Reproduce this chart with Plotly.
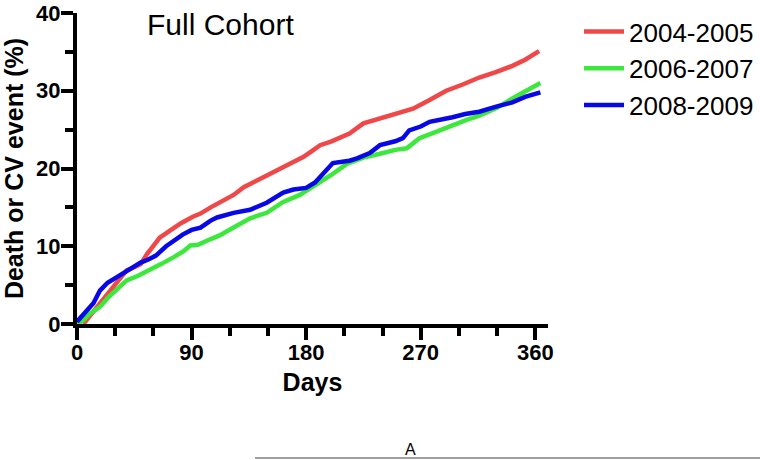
import plotly.graph_objects as go

# ---- data ----
series_names = ["2004-2005", "2006-2007", "2008-2009"]

days_0405 = [5, 8, 15, 20, 26, 33, 39, 45, 50, 55, 60, 65, 73, 82, 91, 97, 105, 114, 123, 131,
             141, 149, 158, 167, 178, 185, 191, 200, 214, 225, 240, 252, 264, 277, 290, 303,
             316, 329, 342, 352, 363]
pct_0405 = [0, 0.6, 2.2, 3.2, 4.3, 5.8, 6.9, 7.3, 7.7, 9.0, 10.0, 11.1, 12.0, 13.0, 13.8, 14.2,
            15.0, 15.8, 16.6, 17.6, 18.4, 19.2, 19.9, 20.6, 21.5, 22.3, 23.0, 23.5, 24.5, 25.8,
            26.5, 27.0, 27.7, 28.8, 30.0, 30.8, 31.7, 32.4, 33.2, 34.0, 35.1]

days_0607 = [0, 5, 10, 18, 25, 32, 39, 48, 57, 66, 76, 84, 89, 95, 102, 112, 123, 136, 149, 162,
             175, 188, 200, 212, 225, 238, 250, 259, 269, 282, 295, 305, 316, 330, 342, 353, 364]
pct_0607 = [0, 0.5, 1.3, 2.2, 3.5, 4.6, 5.6, 6.2, 6.9, 7.7, 8.6, 9.4, 10.1, 10.2, 10.7, 11.4,
            12.4, 13.6, 14.3, 15.7, 16.6, 17.9, 19.2, 20.6, 21.4, 21.9, 22.4, 22.6, 23.9, 24.7,
            25.6, 26.2, 26.8, 27.8, 29.0, 30.0, 31.0]

days_0809 = [0, 3, 8, 13, 18, 24, 31, 38, 44, 50, 56, 62, 70, 77, 83, 90, 97, 105, 110, 123,
             136, 149, 155, 162, 170, 180, 187, 193, 201, 214, 220, 230, 238, 250, 256, 261,
             270, 277, 287, 295, 305, 316, 330, 342, 352, 364]
pct_0809 = [0.3, 0.9, 1.9, 2.7, 4.3, 5.3, 6.0, 6.7, 7.2, 7.9, 8.3, 8.8, 10.0, 10.8, 11.5, 12.1,
            12.4, 13.3, 13.7, 14.3, 14.7, 15.6, 16.2, 16.9, 17.3, 17.5, 18.2, 19.2, 20.7, 21.0,
            21.3, 22.0, 23.0, 23.5, 23.9, 24.9, 25.4, 26.0, 26.3, 26.6, 27.0, 27.3, 28.0, 28.5,
            29.2, 29.8]

x_ticks = [0, 90, 180, 270, 360]
y_ticks = [0, 10, 20, 30, 40]

colors = ["#F04848", "#3CE83C", "#0808E6"]

FONT = "Arial, Liberation Sans, sans-serif"

TOP, BOTTOM, LEFT, RIGHT = 13, 324, 77, 548
PW, PH = RIGHT - LEFT, BOTTOM - TOP

fig = go.Figure()
for name, xs, ys, c in zip(series_names,
                           [days_0405, days_0607, days_0809],
                           [pct_0405, pct_0607, pct_0809], colors):
    fig.add_trace(go.Scatter(x=xs, y=ys, mode="lines", name=name,
                             line=dict(color=c, width=4.5)))

axis_common = dict(showgrid=False, zeroline=False, showline=True, linecolor="black",
                   linewidth=4, ticks="outside", tickcolor="black", tickwidth=4,
                   automargin=False, ticklabeloverflow="allow",
                   tickfont=dict(family=FONT, size=22, color="black", weight="bold"))

fig.update_xaxes(range=[0, 370], tickvals=x_ticks, ticklen=12, ticklabelstandoff=-6,
                 minor=dict(dtick=30, tick0=0, ticks="outside", ticklen=8,
                            tickwidth=4, tickcolor="black"),
                 title=dict(text="<b>Days</b>", font=dict(family=FONT, size=25, color="black"),
                            standoff=10),
                 **axis_common)
fig.update_yaxes(range=[0, 40], tickvals=y_ticks, ticklen=12, ticklabelstandoff=-4,
                 minor=dict(dtick=5, tick0=0, ticks="outside", ticklen=8,
                            tickwidth=4, tickcolor="black"),
                 title=dict(text="<b>Death or CV event (%)</b>",
                            font=dict(family=FONT, size=25, color="black"), standoff=6),
                 **axis_common)

fig.add_annotation(text="Full Cohort", xref="paper", yref="paper", x=(145 - LEFT) / PW,
                   y=1.0, yshift=7, xanchor="left", yanchor="top", showarrow=False,
                   font=dict(family=FONT, size=30, color="black"))

fig.add_annotation(text="A", xref="paper", yref="paper", x=(410 - LEFT) / PW,
                   y=-(449 - BOTTOM) / PH, xanchor="center", yanchor="middle", showarrow=False,
                   font=dict(family=FONT, size=16, color="black"))
fig.add_shape(type="line", xref="paper", yref="paper",
              x0=(255 - LEFT) / PW, x1=(760 - LEFT) / PW,
              y0=-(458 - BOTTOM) / PH, y1=-(458 - BOTTOM) / PH,
              line=dict(color="#A0A0A0", width=2))

fig.update_layout(
    width=760, height=460,
    margin=dict(l=LEFT, r=760 - RIGHT, t=TOP, b=460 - BOTTOM, autoexpand=False),
    paper_bgcolor="white", plot_bgcolor="white",
    font=dict(family=FONT, color="black"),
    legend=dict(x=(579 - LEFT) / PW, y=1.0 + 5 / PH, yanchor="top", xanchor="left",
                font=dict(family=FONT, size=26, color="black"),
                bgcolor="rgba(0,0,0,0)", itemwidth=40),
)

fig.write_html("out.html", config={"displayModeBar": False},
               post_script="document.body.style.margin='0';document.body.style.overflow='hidden';")
